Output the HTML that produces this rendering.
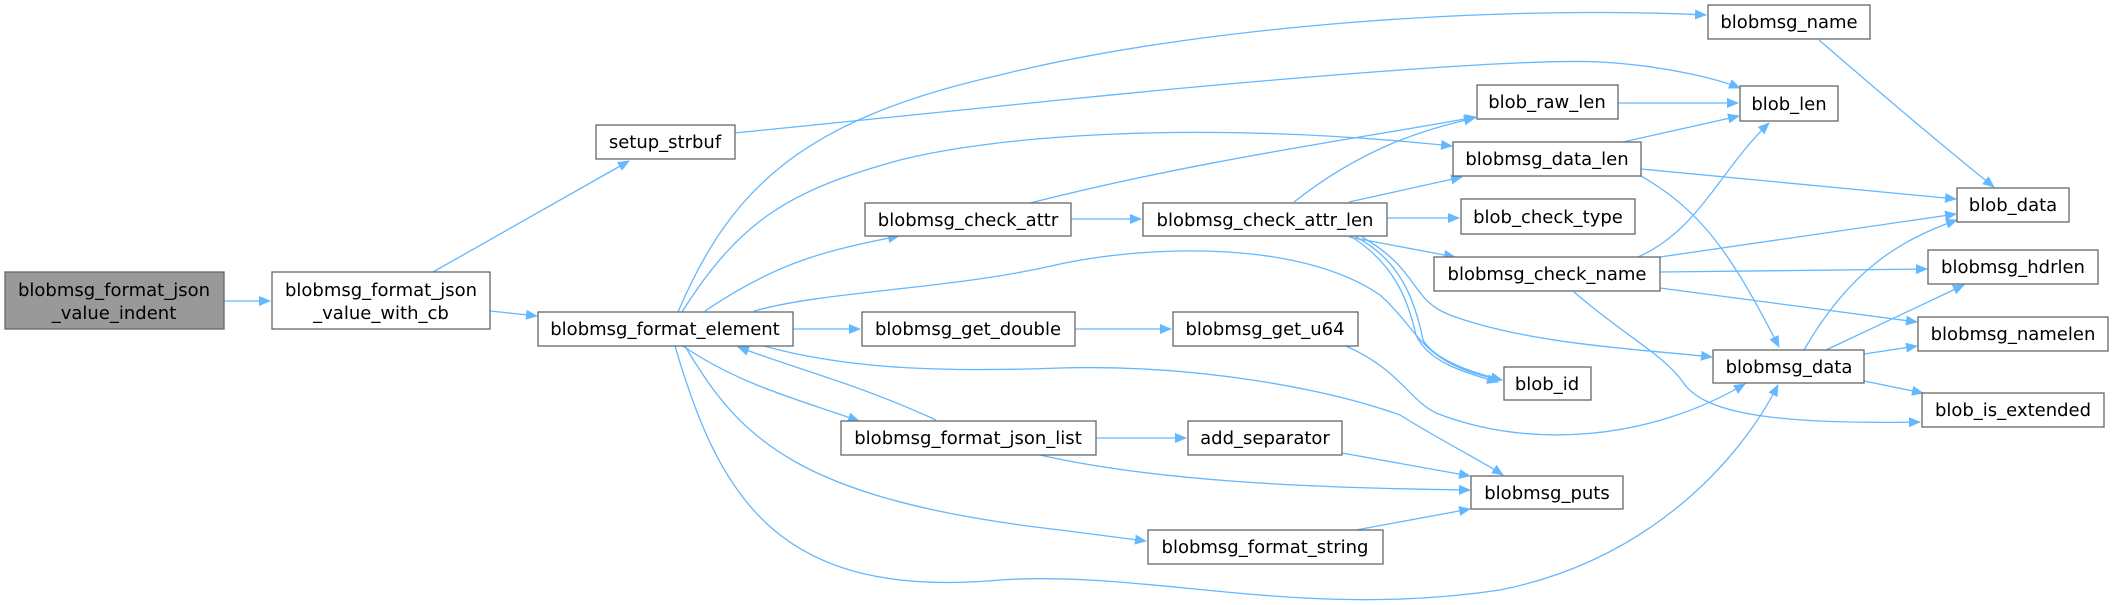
<!DOCTYPE html>
<html><head><meta charset="utf-8"><style>
html,body{margin:0;padding:0;background:#fff;}
svg{display:block;}
text{font-family:"DejaVu Sans","Liberation Sans",sans-serif;font-size:18px;fill:#000;text-anchor:middle;}
.n{fill:#fff;stroke:#666;stroke-width:1.3;}
.e{fill:none;stroke:#63b8ff;stroke-width:1.3;}
</style></head><body>
<svg width="2114" height="605" viewBox="0 0 2114 605" xmlns="http://www.w3.org/2000/svg">
<defs><marker id="a" markerWidth="12" markerHeight="10" refX="11" refY="5" orient="auto" markerUnits="userSpaceOnUse"><path d="M0,0 L12,5 L0,10 Z" fill="#63b8ff"/></marker></defs>
<g marker-end="url(#a)">
<path class="e" d="M224,301 L270,301"/>
<path class="e" d="M433,272 L629,161"/>
<path class="e" d="M490,311 L537,316"/>
<path class="e" d="M735,133 L1060,100 C1300,76 1530,58 1600,62 C1670,66 1720,80 1740,88"/>
<path class="e" d="M678,312 C730,190 800,120 1000,75 C1200,25 1500,5 1706,15"/>
<path class="e" d="M682,312 C740,220 790,190 900,160 C1000,135 1200,120 1452,146"/>
<path class="e" d="M705,311 C780,260 830,250 899,236"/>
<path class="e" d="M754,311 C830,290 950,290 1060,264 C1150,245 1300,240 1380,295 C1420,330 1420,365 1502,380"/>
<path class="e" d="M793,329 L860,329"/>
<path class="e" d="M764,346 C850,370 950,372 1060,368 C1200,364 1330,390 1400,415 C1440,440 1480,460 1503,475"/>
<path class="e" d="M683,346 C740,385 800,400 859,421"/>
<path class="e" d="M936,420 C860,385 800,370 738,347"/>
<path class="e" d="M685,346 C740,440 800,500 1060,530 L1146,541"/>
<path class="e" d="M675,346 C720,500 780,600 1000,580 C1150,570 1300,620 1500,590 C1650,560 1740,460 1778,385"/>
<path class="e" d="M1071,219 L1141,219"/>
<path class="e" d="M1030,203 C1200,160 1350,140 1476,117"/>
<path class="e" d="M1294,202 C1360,150 1420,130 1475,118"/>
<path class="e" d="M1349,202 L1462,177"/>
<path class="e" d="M1387,218 L1459,218"/>
<path class="e" d="M1349,237 L1455,257"/>
<path class="e" d="M1356,237 C1400,260 1415,300 1423,340 C1435,360 1470,372 1502,380"/>
<path class="e" d="M1352,237 C1395,265 1408,300 1416,335 C1428,362 1465,373 1498,382"/>
<path class="e" d="M1362,237 C1420,270 1410,300 1450,315 C1530,345 1650,350 1712,357"/>
<path class="e" d="M1618,103 L1738,103"/>
<path class="e" d="M1623,142 L1739,116"/>
<path class="e" d="M1641,169 L1956,199"/>
<path class="e" d="M1641,176 C1700,210 1730,251 1779,347"/>
<path class="e" d="M1819,40 C1900,110 1960,160 1994,187"/>
<path class="e" d="M1638,257 C1698,231 1720,170 1769,123"/>
<path class="e" d="M1660,257 L1956,214"/>
<path class="e" d="M1660,272 L1927,269"/>
<path class="e" d="M1660,288 L1917,322"/>
<path class="e" d="M1574,292 C1630,340 1665,355 1685,385 C1705,410 1760,425 1920,422"/>
<path class="e" d="M1804,350 C1850,270 1900,240 1957,220"/>
<path class="e" d="M1826,350 L1964,285"/>
<path class="e" d="M1864,354 L1917,346"/>
<path class="e" d="M1864,381 L1923,393"/>
<path class="e" d="M1075,329 L1171,329"/>
<path class="e" d="M1346,346 C1400,370 1409,400 1436,413 C1530,450 1650,440 1745,384"/>
<path class="e" d="M1096,438 L1186,438"/>
<path class="e" d="M1040,455 C1150,480 1300,488 1470,490"/>
<path class="e" d="M1342,453 L1470,476"/>
<path class="e" d="M1356,530 L1470,509"/>
</g>
<rect x="5" y="272" width="219" height="57" fill="#999" stroke="#666" stroke-width="1.3"/>
<text x="114" y="296">blobmsg_format_json</text><text x="114" y="319">_value_indent</text>
<rect class="n" x="272" y="272" width="218" height="57"/>
<text x="381" y="296">blobmsg_format_json</text><text x="381" y="319">_value_with_cb</text>
<rect class="n" x="596" y="125" width="139" height="34"/><text x="665" y="148">setup_strbuf</text>
<rect class="n" x="538" y="312" width="255" height="34"/><text x="665" y="335">blobmsg_format_element</text>
<rect class="n" x="865" y="203" width="206" height="33"/><text x="968" y="226">blobmsg_check_attr</text>
<rect class="n" x="862" y="312" width="213" height="34"/><text x="968" y="335">blobmsg_get_double</text>
<rect class="n" x="841" y="421" width="255" height="34"/><text x="968" y="444">blobmsg_format_json_list</text>
<rect class="n" x="1708" y="5" width="162" height="34"/><text x="1789" y="28">blobmsg_name</text>
<rect class="n" x="1477" y="85" width="141" height="34"/><text x="1547" y="108">blob_raw_len</text>
<rect class="n" x="1740" y="86" width="98" height="35"/><text x="1789" y="110">blob_len</text>
<rect class="n" x="1453" y="142" width="188" height="34"/><text x="1547" y="165">blobmsg_data_len</text>
<rect class="n" x="1957" y="188" width="112" height="34"/><text x="2013" y="211">blob_data</text>
<rect class="n" x="1143" y="203" width="244" height="33"/><text x="1265" y="226">blobmsg_check_attr_len</text>
<rect class="n" x="1461" y="199" width="174" height="35"/><text x="1548" y="223">blob_check_type</text>
<rect class="n" x="1434" y="257" width="226" height="34"/><text x="1547" y="280">blobmsg_check_name</text>
<rect class="n" x="1928" y="250" width="170" height="34"/><text x="2013" y="273">blobmsg_hdrlen</text>
<rect class="n" x="1918" y="317" width="190" height="34"/><text x="2013" y="340">blobmsg_namelen</text>
<rect class="n" x="1173" y="312" width="185" height="34"/><text x="1265" y="335">blobmsg_get_u64</text>
<rect class="n" x="1504" y="367" width="87" height="33"/><text x="1547" y="390">blob_id</text>
<rect class="n" x="1713" y="350" width="151" height="33"/><text x="1789" y="373">blobmsg_data</text>
<rect class="n" x="1922" y="393" width="182" height="34"/><text x="2013" y="416">blob_is_extended</text>
<rect class="n" x="1188" y="421" width="154" height="34"/><text x="1265" y="444">add_separator</text>
<rect class="n" x="1471" y="476" width="152" height="33"/><text x="1547" y="499">blobmsg_puts</text>
<rect class="n" x="1148" y="530" width="235" height="34"/><text x="1265" y="553">blobmsg_format_string</text>
</svg>
</body></html>
